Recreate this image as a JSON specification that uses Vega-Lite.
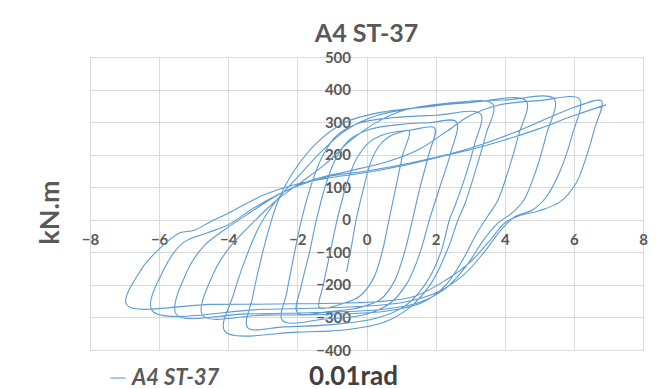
{
  "$schema": "https://vega.github.io/schema/vega-lite/v6.json",
  "width": 553,
  "height": 293,
  "autosize": {"type": "none"},
  "padding": {"left": 90, "top": 57, "right": 19, "bottom": 39},
  "background": "white",
  "title": {"text": "A4 ST-37", "font": "Lato", "fontSize": 25, "fontWeight": "bold", "color": "#595959", "offset": 3, "anchor": "middle"},
  "config": {"view": {"stroke": "#D9D9D9"}},
  "data": {"values": [
    {"i":1,"x":-0.58,"y":-160},{"i":2,"x":-0.45,"y":-90},{"i":3,"x":-0.3,"y":0},{"i":4,"x":-0.1,"y":90},{"i":5,"x":0.1,"y":170},{"i":6,"x":0.35,"y":225},{"i":7,"x":0.65,"y":255},{"i":8,"x":0.95,"y":268},{"i":9,"x":1.24,"y":273},
    {"i":10,"x":1.05,"y":200},{"i":11,"x":0.85,"y":100},{"i":12,"x":0.65,"y":0},{"i":13,"x":0.45,"y":-100},{"i":14,"x":0.2,"y":-180},{"i":15,"x":-0.2,"y":-235},{"i":16,"x":-0.7,"y":-258},{"i":17,"x":-1.36,"y":-270},
    {"i":18,"x":-1.25,"y":-200},{"i":19,"x":-1.05,"y":-100},{"i":20,"x":-0.85,"y":0},{"i":21,"x":-0.6,"y":100},{"i":22,"x":-0.3,"y":185},{"i":23,"x":0.1,"y":240},{"i":24,"x":0.6,"y":265},{"i":25,"x":1.3,"y":276},{"i":26,"x":1.97,"y":282},
    {"i":27,"x":1.8,"y":200},{"i":28,"x":1.55,"y":100},{"i":29,"x":1.33,"y":0},{"i":30,"x":1.1,"y":-100},{"i":31,"x":0.8,"y":-190},{"i":32,"x":0.4,"y":-245},{"i":33,"x":-0.3,"y":-272},{"i":34,"x":-1.1,"y":-282},{"i":35,"x":-2.0,"y":-286},
    {"i":36,"x":-1.88,"y":-200},{"i":37,"x":-1.65,"y":-100},{"i":38,"x":-1.45,"y":0},{"i":39,"x":-1.2,"y":100},{"i":40,"x":-0.9,"y":185},{"i":41,"x":-0.5,"y":245},{"i":42,"x":0.1,"y":278},{"i":43,"x":1.0,"y":293},{"i":44,"x":1.8,"y":298},{"i":45,"x":2.6,"y":301},
    {"i":46,"x":2.42,"y":200},{"i":47,"x":2.12,"y":100},{"i":48,"x":1.82,"y":0},{"i":49,"x":1.55,"y":-100},{"i":50,"x":1.2,"y":-190},{"i":51,"x":0.7,"y":-255},{"i":52,"x":0,"y":-290},{"i":53,"x":-1.2,"y":-305},{"i":54,"x":-2.43,"y":-310},
    {"i":55,"x":-2.3,"y":-220},{"i":56,"x":-2.08,"y":-100},{"i":57,"x":-1.88,"y":0},{"i":58,"x":-1.62,"y":100},{"i":59,"x":-1.3,"y":190},{"i":60,"x":-0.85,"y":260},{"i":61,"x":-0.2,"y":297},{"i":62,"x":0.8,"y":314},{"i":63,"x":2.0,"y":321},{"i":64,"x":3.3,"y":325},
    {"i":65,"x":3.12,"y":230},{"i":66,"x":2.85,"y":130},{"i":67,"x":2.55,"y":40},{"i":68,"x":2.4,"y":0},{"i":69,"x":2.15,"y":-100},{"i":70,"x":1.75,"y":-190},{"i":71,"x":1.15,"y":-262},{"i":72,"x":0.3,"y":-302},{"i":73,"x":-1.0,"y":-322},{"i":74,"x":-2.4,"y":-329},{"i":75,"x":-3.44,"y":-331},
    {"i":76,"x":-3.3,"y":-240},{"i":77,"x":-3.05,"y":-120},{"i":78,"x":-2.8,"y":-20},{"i":79,"x":-2.55,"y":60},{"i":80,"x":-2.1,"y":150},{"i":81,"x":-1.4,"y":240},{"i":82,"x":-0.6,"y":300},{"i":83,"x":0.4,"y":330},{"i":84,"x":1.8,"y":347},{"i":85,"x":3.65,"y":356},
    {"i":86,"x":3.45,"y":260},{"i":87,"x":3.15,"y":150},{"i":88,"x":2.85,"y":50},{"i":89,"x":2.65,"y":0},{"i":90,"x":2.35,"y":-90},{"i":91,"x":1.9,"y":-190},{"i":92,"x":1.3,"y":-265},{"i":93,"x":0.5,"y":-315},{"i":94,"x":-0.6,"y":-338},{"i":95,"x":-2.0,"y":-345},{"i":96,"x":-4.1,"y":-343},
    {"i":97,"x":-3.85,"y":-230},{"i":98,"x":-3.5,"y":-120},{"i":99,"x":-3.1,"y":-20},{"i":100,"x":-2.6,"y":60},{"i":101,"x":-2.0,"y":130},{"i":102,"x":-1.3,"y":210},{"i":103,"x":-0.6,"y":275},{"i":104,"x":0.3,"y":320},{"i":105,"x":1.5,"y":345},{"i":106,"x":3.0,"y":360},{"i":107,"x":4.62,"y":365},
    {"i":108,"x":4.4,"y":260},{"i":109,"x":4.1,"y":150},{"i":110,"x":3.8,"y":60},{"i":111,"x":3.5,"y":10},{"i":112,"x":3.2,"y":-40},{"i":113,"x":2.8,"y":-120},{"i":114,"x":2.3,"y":-200},{"i":115,"x":1.6,"y":-255},{"i":116,"x":0.6,"y":-280},{"i":117,"x":-1.0,"y":-290},{"i":118,"x":-3.0,"y":-293},{"i":119,"x":-4.74,"y":-294},
    {"i":120,"x":-4.45,"y":-170},{"i":121,"x":-4.0,"y":-90},{"i":122,"x":-3.3,"y":-10},{"i":123,"x":-2.6,"y":60},{"i":124,"x":-1.9,"y":115},{"i":125,"x":-1.2,"y":170},{"i":126,"x":-0.5,"y":240},{"i":127,"x":0.3,"y":300},{"i":128,"x":1.2,"y":340},{"i":129,"x":2.5,"y":360},{"i":130,"x":4.0,"y":368},{"i":131,"x":5.43,"y":371},
    {"i":132,"x":5.2,"y":260},{"i":133,"x":4.9,"y":150},{"i":134,"x":4.55,"y":60},{"i":135,"x":4.2,"y":20},{"i":136,"x":3.8,"y":-10},{"i":137,"x":3.4,"y":-60},{"i":138,"x":2.9,"y":-140},{"i":139,"x":2.3,"y":-210},{"i":140,"x":1.5,"y":-255},{"i":141,"x":0.5,"y":-275},{"i":142,"x":-1.5,"y":-285},{"i":143,"x":-3.5,"y":-289},{"i":144,"x":-5.5,"y":-291},
    {"i":145,"x":-5.2,"y":-160},{"i":146,"x":-4.7,"y":-80},{"i":147,"x":-4.1,"y":-30},{"i":148,"x":-3.4,"y":20},{"i":149,"x":-2.5,"y":80},{"i":150,"x":-1.5,"y":125},{"i":151,"x":-0.5,"y":150},{"i":152,"x":0.5,"y":175},{"i":153,"x":1.5,"y":215},{"i":154,"x":2.3,"y":270},{"i":155,"x":3.0,"y":320},{"i":156,"x":3.8,"y":352},{"i":157,"x":5.0,"y":366},{"i":158,"x":6.16,"y":371},
    {"i":159,"x":5.95,"y":260},{"i":160,"x":5.6,"y":150},{"i":161,"x":5.2,"y":70},{"i":162,"x":4.8,"y":30},{"i":163,"x":4.3,"y":10},{"i":164,"x":3.9,"y":-30},{"i":165,"x":3.4,"y":-100},{"i":166,"x":2.8,"y":-170},{"i":167,"x":2.0,"y":-225},{"i":168,"x":1.0,"y":-255},{"i":169,"x":-0.5,"y":-268},{"i":170,"x":-3.0,"y":-275},{"i":171,"x":-6.2,"y":-279},
    {"i":172,"x":-5.85,"y":-150},{"i":173,"x":-5.3,"y":-70},{"i":174,"x":-4.6,"y":-40},{"i":175,"x":-4.0,"y":-15},{"i":176,"x":-3.2,"y":40},{"i":177,"x":-2.2,"y":95},{"i":178,"x":-1.0,"y":135},{"i":179,"x":0,"y":150},{"i":180,"x":1.5,"y":180},{"i":181,"x":3.0,"y":220},{"i":182,"x":4.2,"y":265},{"i":183,"x":5.2,"y":310},{"i":184,"x":6.0,"y":345},{"i":185,"x":6.8,"y":365},
    {"i":186,"x":6.6,"y":280},{"i":187,"x":6.35,"y":190},{"i":188,"x":6.05,"y":110},{"i":189,"x":5.6,"y":55},{"i":190,"x":5.0,"y":28},{"i":191,"x":4.4,"y":12},{"i":192,"x":4.0,"y":-10},{"i":193,"x":3.6,"y":-60},{"i":194,"x":3.0,"y":-130},{"i":195,"x":2.3,"y":-185},{"i":196,"x":1.4,"y":-235},{"i":197,"x":0.3,"y":-252},{"i":198,"x":-2.0,"y":-258},{"i":199,"x":-4.5,"y":-260},{"i":200,"x":-6.94,"y":-261},
    {"i":201,"x":-6.5,"y":-150},{"i":202,"x":-6.0,"y":-90},{"i":203,"x":-5.4,"y":-40},{"i":204,"x":-5.0,"y":-33},{"i":205,"x":-4.5,"y":-5},{"i":206,"x":-4.0,"y":20},{"i":207,"x":-3.0,"y":75},{"i":208,"x":-2.0,"y":110},{"i":209,"x":-1.0,"y":130},{"i":210,"x":0,"y":145},{"i":211,"x":1.0,"y":165},{"i":212,"x":2.0,"y":190},{"i":213,"x":3.0,"y":215},{"i":214,"x":4.0,"y":245},{"i":215,"x":5.0,"y":280},{"i":216,"x":6.0,"y":320},{"i":217,"x":6.93,"y":353}
  ]},
  "mark": {"type": "line", "interpolate": "catmull-rom", "strokeWidth": 1.1},
  "encoding": {
    "x": {"field": "x", "type": "quantitative",
      "scale": {"domain": [-8, 8], "nice": false, "zero": false},
      "axis": {"values": [-8,-6,-4,-2,0,2,4,6,8], "offset": -130, "domain": false, "ticks": false, "labelFlush": false,
        "grid": true, "gridColor": "#D9D9D9", "labelFont": "Lato", "labelFontSize": 15, "labelFontWeight": "bold",
        "labelColor": "#595959", "labelPadding": 12,
        "title": "0.01rad", "titleFont": "Lato", "titleFontSize": 26, "titleFontWeight": "bold", "titleColor": "#404040",
        "titleX": 263, "titleY": 156, "titleBaseline": "middle"}},
    "y": {"field": "y", "type": "quantitative",
      "scale": {"domain": [-400, 500], "nice": false, "zero": false},
      "axis": {"values": [-400,-300,-200,-100,0,100,200,300,400,500], "offset": -276.5, "domain": false, "ticks": false, "labelFlush": false,
        "grid": true, "gridColor": "#D9D9D9", "labelFont": "Lato", "labelFontSize": 15, "labelFontWeight": "bold",
        "labelColor": "#595959", "labelPadding": 16,
        "title": "kN.m", "titleFont": "Lato", "titleFontSize": 27, "titleFontWeight": "bold", "titleColor": "#595959",
        "titleX": -316, "titleY": 155, "titleAngle": -90, "titleAlign": "center", "titleBaseline": "middle"}},
    "order": {"field": "i", "type": "quantitative"},
    "color": {"datum": "A4 ST-37", "type": "nominal",
      "scale": {"range": ["#5B9BD5"]},
      "legend": {"orient": "none", "legendX": 17, "legendY": 310, "title": null, "symbolType": "stroke",
        "symbolSize": 225, "symbolStrokeWidth": 1.1, "labelFont": "Lato", "labelFontSize": 22,
        "labelFontStyle": "italic", "labelFontWeight": "bold", "labelColor": "#595959", "labelOffset": 3}}
  }
}
